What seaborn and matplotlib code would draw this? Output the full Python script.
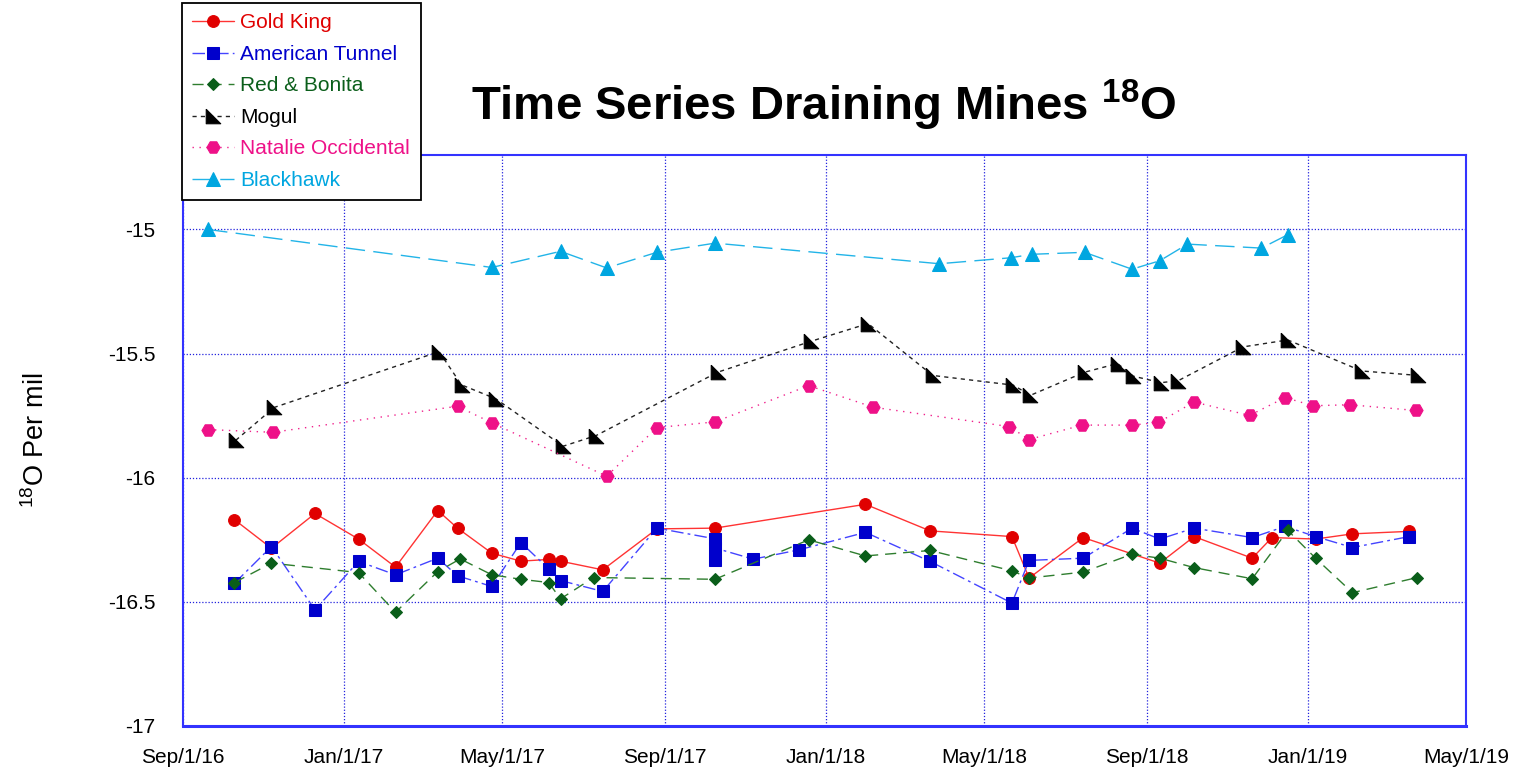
import pandas as pd
import numpy as np
import matplotlib
matplotlib.use("Agg")
import matplotlib.pyplot as plt
import seaborn as sns

# ── 1. DATA ──────────────────────────────────────────────────
gold_king_dates = ["2016-10-10", "2016-11-07", "2016-12-10", "2017-01-12", "2017-02-09",
                   "2017-03-13", "2017-03-28", "2017-04-23", "2017-05-15", "2017-06-05",
                   "2017-06-14", "2017-07-16", "2017-08-26", "2017-10-09", "2018-01-31",
                   "2018-03-21", "2018-05-22", "2018-06-04", "2018-07-15", "2018-09-11",
                   "2018-10-07", "2018-11-20", "2018-12-05", "2019-01-07", "2019-02-04",
                   "2019-03-19"]
gold_king = [-16.169, -16.284, -16.144, -16.247, -16.360, -16.132, -16.203, -16.304, -16.336,
             -16.329, -16.336, -16.371, -16.206, -16.203, -16.107, -16.214, -16.237, -16.404,
             -16.241, -16.344, -16.237, -16.324, -16.241, -16.247, -16.226, -16.216]

american_tunnel_dates = ["2016-10-10", "2016-11-07", "2016-12-10", "2017-01-12", "2017-02-09",
                         "2017-03-13", "2017-03-28", "2017-04-23", "2017-05-15", "2017-06-05",
                         "2017-06-14", "2017-07-16", "2017-08-26", "2017-10-09", "2017-10-09",
                         "2017-10-09", "2017-11-07", "2017-12-12", "2018-01-31", "2018-03-21",
                         "2018-05-22", "2018-06-04", "2018-07-15", "2018-08-21", "2018-09-11",
                         "2018-10-07", "2018-11-20", "2018-12-15", "2019-01-07", "2019-02-04",
                         "2019-03-19"]
american_tunnel = [-16.425, -16.277, -16.532, -16.337, -16.391, -16.324, -16.395, -16.438,
                   -16.261, -16.367, -16.414, -16.458, -16.203, -16.246, -16.333, -16.283,
                   -16.328, -16.290, -16.220, -16.337, -16.505, -16.333, -16.324, -16.203,
                   -16.247, -16.203, -16.241, -16.196, -16.237, -16.281, -16.237]

red_bonita_dates = ["2016-10-10", "2016-11-07", "2017-01-12", "2017-02-09", "2017-03-13",
                    "2017-03-30", "2017-04-23", "2017-05-15", "2017-06-05", "2017-06-14",
                    "2017-07-09", "2017-10-09", "2017-12-19", "2018-01-31", "2018-03-21",
                    "2018-05-22", "2018-06-04", "2018-07-15", "2018-08-21", "2018-09-11",
                    "2018-10-07", "2018-11-20", "2018-12-17", "2019-01-07", "2019-02-04",
                    "2019-03-25"]
red_bonita = [-16.422, -16.344, -16.382, -16.542, -16.378, -16.327, -16.391, -16.409, -16.422,
              -16.488, -16.402, -16.409, -16.250, -16.315, -16.293, -16.375, -16.404, -16.380,
              -16.308, -16.324, -16.362, -16.407, -16.212, -16.324, -16.463, -16.402]

mogul_dates = ["2016-10-11", "2016-11-09", "2017-03-14", "2017-03-31", "2017-04-26",
               "2017-06-16", "2017-07-11", "2017-10-11", "2017-12-21", "2018-02-02",
               "2018-03-23", "2018-05-23", "2018-06-05", "2018-07-16", "2018-08-10",
               "2018-08-22", "2018-09-12", "2018-09-25", "2018-11-13", "2018-12-17",
               "2019-02-11", "2019-03-26"]
mogul = [-15.849, -15.717, -15.492, -15.626, -15.682, -15.873, -15.830, -15.575, -15.450,
         -15.379, -15.588, -15.627, -15.668, -15.575, -15.540, -15.591, -15.617, -15.609,
         -15.473, -15.445, -15.570, -15.588]

natalie_dates = ["2016-09-20", "2016-11-08", "2017-03-28", "2017-04-23", "2017-07-19",
                 "2017-08-26", "2017-10-09", "2017-12-19", "2018-02-06", "2018-05-20",
                 "2018-06-04", "2018-07-14", "2018-08-21", "2018-09-10", "2018-10-07",
                 "2018-11-18", "2018-12-15", "2019-01-05", "2019-02-02", "2019-03-24"]
natalie = [-15.806, -15.817, -15.712, -15.779, -15.994, -15.798, -15.775, -15.629, -15.716,
           -15.794, -15.846, -15.788, -15.788, -15.777, -15.695, -15.749, -15.677, -15.710,
           -15.706, -15.729]

blackhawk_dates = ["2016-09-20", "2017-04-23", "2017-06-14", "2017-07-19", "2017-08-26",
                   "2017-10-09", "2018-03-28", "2018-05-21", "2018-06-06", "2018-07-16",
                   "2018-08-21", "2018-09-11", "2018-10-02", "2018-11-27", "2018-12-17"]
blackhawk = [-15.000, -15.153, -15.088, -15.155, -15.092, -15.055, -15.138, -15.114, -15.100,
             -15.092, -15.160, -15.126, -15.059, -15.075, -15.021]

x_tick_dates = ["2016-09-01", "2017-01-01", "2017-05-01", "2017-09-01", "2018-01-01",
                "2018-05-01", "2018-09-01", "2019-01-01", "2019-05-01"]
x_tick_labels = ["Sep/1/16", "Jan/1/17", "May/1/17", "Sep/1/17", "Jan/1/18",
                 "May/1/18", "Sep/1/18", "Jan/1/19", "May/1/19"]
y_ticks = [-17, -16.5, -16, -15.5, -15]
y_tick_labels = ["-17", "-16.5", "-16", "-15.5", "-15"]

# ── 2. STYLE ─────────────────────────────────────────────────
sns.set_style("white")
plt.rcParams['font.family'] = ['Liberation Sans', 'DejaVu Sans']
plt.rcParams['mathtext.fontset'] = 'custom'
plt.rcParams['mathtext.rm'] = 'Liberation Sans'
plt.rcParams['mathtext.bf'] = 'Liberation Sans:bold'
plt.rcParams['mathtext.default'] = 'regular'
for key in ['text.color', 'axes.labelcolor', 'xtick.color', 'ytick.color']:
    plt.rcParams[key] = 'black'

AXIS_BLUE = "#3333ff"
GRID_BLUE = "#2222dd"
mogul_marker = [(-1, 1), (-1, -1), (1, -1), (-1, 1)]

series = [
    ("Gold King", gold_king_dates, gold_king,
     dict(color="#ff3333", marker="o", ms=8.5, mfc="#e00000", mec="#e00000"), None),
    ("American Tunnel", american_tunnel_dates, american_tunnel,
     dict(color="#4444ff", marker="s", ms=8, mfc="#0000cc", mec="#0000cc"), (9, 3, 2, 3)),
    ("Red & Bonita", red_bonita_dates, red_bonita,
     dict(color="#2e7d2e", marker="D", ms=6.5, mfc="#0a5e1a", mec="#0a5e1a"), (8, 5)),
    ("Mogul", mogul_dates, mogul,
     dict(color="#222222", marker=mogul_marker, ms=10.5, mfc="black", mec="black"), (3, 3)),
    ("Natalie Occidental", natalie_dates, natalie,
     dict(color="#f0208c", marker="H", ms=9.5, mfc="#ee1188", mec="#ee1188"), (1, 4)),
    ("Blackhawk", blackhawk_dates, blackhawk,
     dict(color="#22b4e8", marker="^", ms=9.5, mfc="#00a6e0", mec="#00a6e0"), (14, 6)),
]

# ── 3. PLOT ──────────────────────────────────────────────────
fig = plt.figure(figsize=(15.22, 7.75), dpi=100)
ax = fig.add_axes([183 / 1522, 1 - 726 / 775, (1466 - 183) / 1522, (726 - 155) / 775])

for name, dates, vals, style, dash in series:
    df = pd.DataFrame({"date": pd.to_datetime(dates), "d18O": vals})
    sns.lineplot(data=df, x="date", y="d18O", ax=ax, estimator=None, sort=False,
                 label=name, lw=1, **style)
    line = ax.lines[-1]
    if dash is not None:
        line.set_dashes(dash)

ax.set_xlim(pd.Timestamp("2016-09-01"), pd.Timestamp("2019-05-01"))
ax.set_ylim(-17, -14.7)
ax.set_xticks(pd.to_datetime(x_tick_dates))
ax.set_xticklabels(x_tick_labels, fontsize=15)
ax.set_yticks(y_ticks)
ax.set_yticklabels(y_tick_labels, fontsize=15)
ax.tick_params(axis="both", direction="in", length=5, color=AXIS_BLUE)
ax.tick_params(axis="y", pad=20)
ax.tick_params(axis="x", pad=16)
ax.grid(True, color=GRID_BLUE, linestyle=(0, (1, 1.5)), lw=0.9)
for side in ["left", "right", "top", "bottom"]:
    ax.spines[side].set_color(AXIS_BLUE)
    ax.spines[side].set_linewidth(1.5)
ax.spines["bottom"].set_linewidth(2.2)

ax.set_xlabel("")
ax.set_ylabel(r"$^{18}$O Per mil", fontsize=19.5)
ax.yaxis.set_label_coords(-0.1037, 0.5)

fig.text(824 / 1522, 1 - 105 / 775, r"Time Series Draining Mines $^{18}$O",
         ha="center", va="center", fontsize=34, fontweight="bold", color="black")

# legend sits above the axes in the top-left corner
handles, labels = ax.get_legend_handles_labels()
leg = fig.legend(handles, labels, loc="upper left", bbox_to_anchor=(182 / 1522, 1 - 3 / 775),
                 frameon=True, fancybox=False, edgecolor="black", framealpha=1,
                 fontsize=15, handlelength=2.0, handletextpad=0.3, labelspacing=0.6,
                 borderpad=0.5, borderaxespad=0)
leg.get_frame().set_linewidth(1.3)
if ax.get_legend() is not None:
    ax.get_legend().remove()
for text, (_, _, _, style, _) in zip(leg.get_texts(), series):
    text.set_color(style["mfc"])

fig.savefig("out.png", dpi=100)
